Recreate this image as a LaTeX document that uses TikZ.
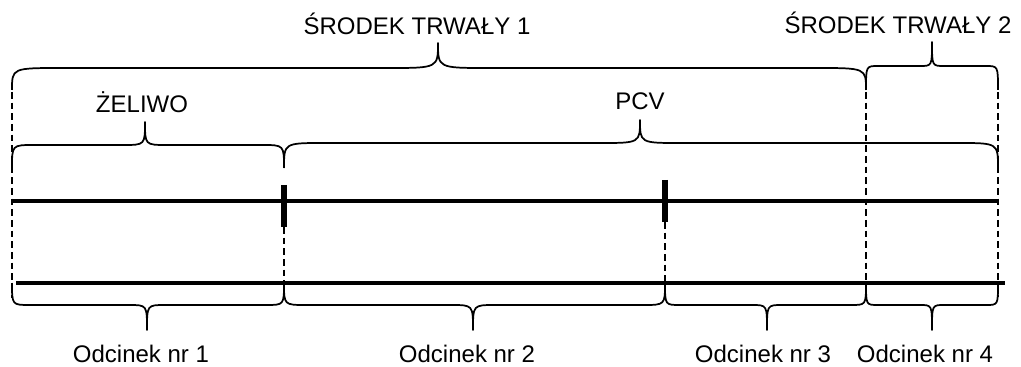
\documentclass[tikz,border=0pt]{standalone}
\usepackage{fontspec}
\setmainfont{Liberation Sans}
\usetikzlibrary{calc,positioning}

\begin{document}
\begin{tikzpicture}
	[x=0.75pt,y=-0.75pt,
	every node/.style={inner sep=0pt,anchor=base,font=\fontsize{18}{22}\selectfont},
	pipe/.style={line width=2.7pt},
	joint/.style={line width=4.2pt},
	guide/.style={dash pattern=on 5pt off 3pt,line width=1pt},
	bracket/.style={line width=1.3pt,line join=round}]
	\useasboundingbox (0,0) rectangle (1021,367);

	% pipes
	\coordinate (u0) at (12,201);
	\coordinate (u4) at (998,201);
	\coordinate (l0) at (16,283);
	\coordinate (l4) at (1005,283);
	\draw[pipe] (u0) -- (u4);
	\draw[pipe] (l0) -- (l4);

	% joints
	\coordinate (j1t) at (284,185);
	\coordinate (j1b) at (284,227);
	\coordinate (j2t) at (665,180);
	\coordinate (j2b) at (665,222);
	\draw[joint] (j1t) -- (j1b);
	\draw[joint] (j2t) -- (j2b);

	% dashed guides
	\foreach \gx/\gt/\gb in {12/92/298,284/227/283,665/222/283,866/92/283,998/92/297}
		\draw[guide] (\gx,\gt) -- (\gx,\gb);

	% braces: left/right/tip/end/flat/top/radius
	\foreach \xa/\xb/\xt/\ye/\yf/\yt/\r in {12/866/438/90/68/43/50,
		866/998/932/90/66/42/12,
		12/284/145/168/145/122/22,
		284/998/640/168/143/120/40,
		12/284/147/283/305/330/18,
		284/665/473/283/305/330/22,
		665/866/767/283/305/330/15,
		866/998/932/283/305/330/12}
		\draw[bracket] (\xa,\ye) .. controls (\xa,\yf) .. (\xa+\r,\yf)
			-- (\xt-\r,\yf) .. controls (\xt,\yf) .. (\xt,\yt)
			.. controls (\xt,\yf) .. (\xt+\r,\yf)
			-- (\xb-\r,\yf) .. controls (\xb,\yf) .. (\xb,\ye);

	% labels
	\node (srodek1) at (417,35) {ŚRODEK TRWAŁY 1};
	\node (srodek2) at (898,34) {ŚRODEK TRWAŁY 2};
	\node (zeliwo) at (142,113) {ŻELIWO};
	\node (pcv) at (640,110) {PCV};
	\node (odc1) at (141,362) {Odcinek nr 1};
	\node (odc2) at (467,362) {Odcinek nr 2};
	\node (odc3) at (763,362) {Odcinek nr 3};
	\node (odc4) at (925,362) {Odcinek nr 4};
\end{tikzpicture}
\end{document}
